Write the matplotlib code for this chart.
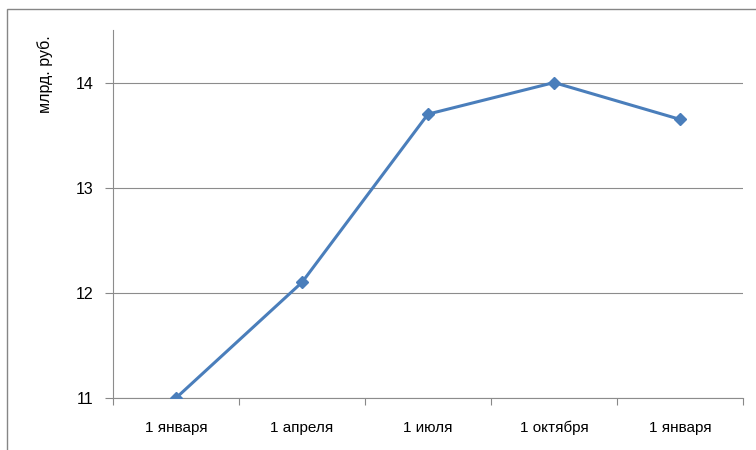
import matplotlib
matplotlib.use("Agg")
import matplotlib.pyplot as plt
from matplotlib.patches import Rectangle
import numpy as np

categories = ["1 января", "1 апреля", "1 июля", "1 октября", "1 января"]
values = [11.0, 12.1, 13.7, 14.0, 13.65]
yticks = [11, 12, 13, 14]

plt.rcParams['font.family'] = ['Liberation Sans', 'DejaVu Sans']

W, H = 756, 450
fig = plt.figure(figsize=(W / 100, H / 100), dpi=100)
ax = fig.add_axes([113 / W, 1 - 398 / H, (743 - 113) / W, (398 - 30) / H])

x = np.arange(len(values))
ax.plot(x, values, color="#4A7EBB", lw=2.2, marker="D", ms=6.5, mfc="#4A7EBB", mec="#4A7EBB", zorder=3)

ax.set_xlim(-0.5, len(values) - 0.5)
ax.set_ylim(11, 14.5)
ax.set_yticks(yticks)
ax.set_yticklabels([str(v) for v in yticks])
ax.set_xticks(x)
ax.set_xticklabels(categories)
for lab in ax.get_xticklabels():
    lab.set_va("baseline")
ax.set_xticks(np.arange(-0.5, len(values), 1.0), minor=True)
ax.tick_params(axis="x", which="major", length=0, pad=24.5, labelsize=11, labelcolor="#000000")
ax.tick_params(axis="x", which="minor", length=5, color="#888888", width=0.8)
ax.tick_params(axis="y", length=6, color="#888888", width=0.8, pad=8, labelsize=11.5)

for yv in yticks:
    ax.axhline(yv, color="#8c8c8c", lw=0.8, zorder=1)

for s in ["top", "right"]:
    ax.spines[s].set_visible(False)
ax.spines["left"].set_color("#8c8c8c")
ax.spines["bottom"].set_color("#8c8c8c")
ax.spines["left"].set_linewidth(0.8)
ax.spines["bottom"].set_linewidth(0.8)

fig.text(45 / W, 1 - 74 / H, "млрд. руб.", rotation=90, ha="center", va="center", fontsize=11.5)

fig.patches.append(Rectangle((7 / W, -0.1), 1.2, 1 - 9 / H + 0.1, transform=fig.transFigure,
                             fill=False, edgecolor="#868686", lw=1.0))

fig.savefig("out.png", dpi=100)
